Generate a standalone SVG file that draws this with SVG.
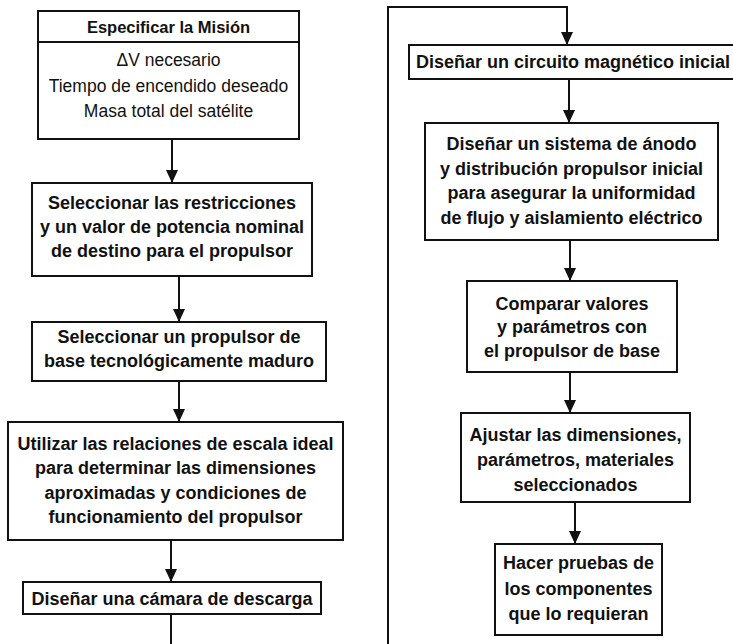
<svg xmlns="http://www.w3.org/2000/svg" width="733" height="644" viewBox="0 0 733 644">
<defs>
<marker id="ah" markerWidth="13" markerHeight="12" refX="13" refY="6" orient="auto" markerUnits="userSpaceOnUse">
<path d="M0,0 L13,6 L0,12 Z" fill="#111"/>
</marker>
<style>
.box{fill:#fff;stroke:#111;stroke-width:2}
.ln{fill:none;stroke:#111;stroke-width:2}
.b{font-family:"Liberation Sans",Arial,sans-serif;font-weight:bold;font-size:18px;fill:#111;text-anchor:middle}
.r{font-family:"Liberation Sans",Arial,sans-serif;font-size:17.5px;fill:#111;text-anchor:middle}
</style>
</defs>
<rect width="733" height="644" fill="#fff"/>
<g id="connectors">
<line class="ln" x1="172" y1="139" x2="172" y2="183" marker-end="url(#ah)"/>
<line class="ln" x1="179" y1="276" x2="179" y2="322" marker-end="url(#ah)"/>
<line class="ln" x1="179" y1="381" x2="179" y2="422" marker-end="url(#ah)"/>
<line class="ln" x1="171" y1="540" x2="171" y2="582" marker-end="url(#ah)"/>
<line class="ln" x1="171" y1="614" x2="171" y2="646"/>
<polyline class="ln" points="388,646 388,7 567,7 567,45" marker-end="url(#ah)"/>
<line class="ln" x1="569" y1="79" x2="569" y2="123" marker-end="url(#ah)"/>
<line class="ln" x1="570" y1="240" x2="570" y2="281" marker-end="url(#ah)"/>
<line class="ln" x1="570" y1="372" x2="570" y2="413" marker-end="url(#ah)"/>
<line class="ln" x1="575" y1="502" x2="575" y2="544" marker-end="url(#ah)"/>
</g>
<g id="n1">
<rect class="box" x="38" y="11" width="261" height="128"/>
<line class="ln" x1="38" y1="42" x2="299" y2="42"/>
<text class="b" x="168.5" y="33" style="font-size:16.5px">Especificar la Misión</text>
<text class="r" x="168.5" y="66">ΔV necesario</text>
<text class="r" x="168.5" y="92">Tiempo de encendido deseado</text>
<text class="r" x="168.5" y="117">Masa total del satélite</text>
</g>
<g id="n2">
<rect class="box" x="32" y="183" width="280" height="93"/>
<text class="b" x="172" y="209">Seleccionar las restricciones</text>
<text class="b" x="172" y="233">y un valor de potencia nominal</text>
<text class="b" x="172" y="257">de destino para el propulsor</text>
</g>
<g id="n3">
<rect class="box" x="32" y="322" width="294" height="59"/>
<text class="b" x="179" y="343">Seleccionar un propulsor de</text>
<text class="b" x="179" y="367">base tecnológicamente maduro</text>
</g>
<g id="n4">
<rect class="box" x="8" y="422" width="335" height="118"/>
<text class="b" x="175.5" y="450">Utilizar las relaciones de escala ideal</text>
<text class="b" x="175.5" y="474">para determinar las dimensiones</text>
<text class="b" x="175.5" y="499">aproximadas y condiciones de</text>
<text class="b" x="175.5" y="523">funcionamiento del propulsor</text>
</g>
<g id="n5">
<rect class="box" x="23" y="582" width="298" height="32"/>
<text class="b" x="172" y="605">Diseñar una cámara de descarga</text>
</g>
<g id="n6">
<rect class="box" x="409" y="45" width="330" height="34"/>
<text class="b" x="573" y="68">Diseñar un circuito magnético inicial</text>
</g>
<g id="n7">
<rect class="box" x="425" y="123" width="293" height="117"/>
<text class="b" x="571.5" y="150">Diseñar un sistema de ánodo</text>
<text class="b" x="571.5" y="175">y distribución propulsor inicial</text>
<text class="b" x="571.5" y="199">para asegurar la uniformidad</text>
<text class="b" x="571.5" y="224">de flujo y aislamiento eléctrico</text>
</g>
<g id="n8">
<rect class="box" x="467" y="281" width="210" height="91"/>
<text class="b" x="572" y="310">Comparar valores</text>
<text class="b" x="572" y="333">y parámetros con</text>
<text class="b" x="572" y="357">el propulsor de base</text>
</g>
<g id="n9">
<rect class="box" x="461" y="413" width="229" height="89"/>
<text class="b" x="575.5" y="441">Ajustar las dimensiones,</text>
<text class="b" x="575.5" y="466">parámetros, materiales</text>
<text class="b" x="575.5" y="491">seleccionados</text>
</g>
<g id="n10">
<rect class="box" x="495" y="544" width="167" height="91"/>
<text class="b" x="578.5" y="569">Hacer pruebas de</text>
<text class="b" x="578.5" y="595">los componentes</text>
<text class="b" x="578.5" y="620">que lo requieran</text>
</g>
</svg>
